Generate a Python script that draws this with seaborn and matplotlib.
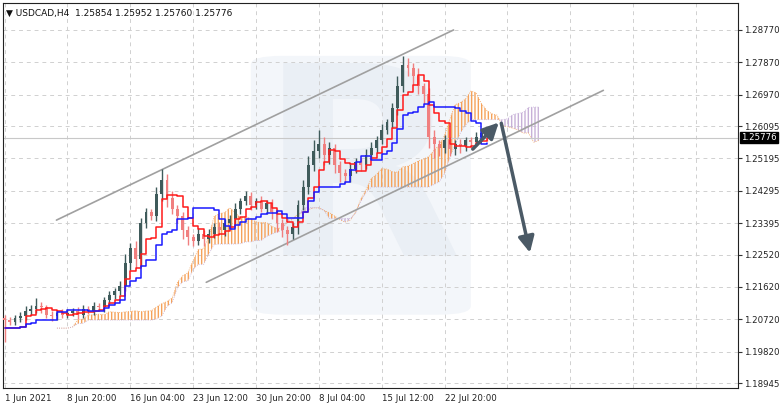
import numpy as np
import pandas as pd
import matplotlib
matplotlib.use("Agg")
import matplotlib.pyplot as plt
import seaborn as sns
from matplotlib.patches import FancyBboxPatch

sns.set_theme(style="white")
plt.rcParams['font.family'] = ['DejaVu Sans']

closes = [1.2070,
          1.2065,1.2075,1.2080,
          1.2095,1.2100,1.2110,1.2105,
          1.2085,1.2080,1.2090,1.2085,
          1.2090,1.2095,1.2085,1.2100,1.2095,1.2110,1.2105,
          1.2125,1.2140,1.2150,1.2165,
          1.2230,1.2270,1.2240,
          1.2340,1.2370,1.2360,
          1.2420,1.2460,1.2410,
          1.2380,1.2360,1.2320,
          1.2300,1.2290,1.2310,1.2295,
          1.2310,1.2330,1.2320,1.2340,1.2350,
          1.2380,1.2400,1.2415,
          1.2390,1.2400,1.2380,1.2395,1.2370,
          1.2340,1.2320,1.2310,1.2330,
          1.2390,1.2440,1.2500,
          1.2540,1.2560,1.2530,1.2550,
          1.2500,1.2480,1.2470,
          1.2490,1.2510,1.2500,1.2530,
          1.2550,1.2570,1.2600,1.2620,1.2660,
          1.2720,1.2780,1.2770,
          1.2750,1.2720,1.2700,
          1.2580,1.2560,1.2550,
          1.2570,1.2545,1.2560,1.2555,1.2570,
          1.2565,1.2580,1.2590,1.2578]
first_open = 1.2075
wick_up_pips = [10,8,10,12, 15,12,20,10, 8,10,8,10, 10,8,10,12,8,10,8, 10,12,10,15,
                25,15,20, 15,12,10, 20,30,15, 20,10,10, 12,10,15,10, 12,10,12,10,12,
                15,10,15, 12,10,15,10,12, 10,10,12,10, 15,20,25, 30,40,20,15, 10,12,10,
                15,12,10,15, 15,12,15,10,15, 30,25,20, 15,20,10, 15,20,12, 15,10,12,15,10,
                10,12,8,12]
wick_dn_pips = [60,10,8,10, 10,12,10,15, 10,12,10,8, 8,10,12,10,8,10,10, 12,10,12,10,
                15,20,25, 20,15,12, 15,20,25, 15,20,25, 20,15,12,20, 10,12,10,15,10,
                12,15,10, 15,12,10,15,20, 25,20,30,15, 20,15,20, 15,20,30,25, 20,25,20,
                15,12,15,10, 12,15,10,12,15, 20,15,20, 25,20,30, 30,40,25, 15,20,15,20,15,
                15,10,12,10]

xtick_labels = ["1 Jun 2021", "8 Jun 20:00", "16 Jun 04:00", "23 Jun 12:00",
                "30 Jun 20:00", "8 Jul 04:00", "15 Jul 12:00", "22 Jul 20:00"]
ytick_values = [1.28770, 1.27870, 1.26970, 1.26095, 1.25195, 1.24295,
                1.23395, 1.22520, 1.21620, 1.20720, 1.19820, 1.18945]
title = "USDCAD,H4  1.25854 1.25952 1.25760 1.25776"
last_price = 1.25776
channel_upper = [(9.9, 1.2348), (85.7, 1.2877)]
channel_lower = [(38.5, 1.2175), (114.3, 1.2709)]
arrow_up = [(89.0, 1.2540), (94.7, 1.2625)]
arrow_down = [(94.7, 1.2625), (100.4, 1.2250)]

n = len(closes)
idx = np.arange(n)
c = np.array(closes)
o = np.concatenate([[first_open], c[:-1]])
h = np.maximum(o, c) + np.array(wick_up_pips) * 1e-4
l = np.minimum(o, c) - np.array(wick_dn_pips) * 1e-4
df = pd.DataFrame({"i": idx, "open": o, "high": h, "low": l, "close": c})

tk, kj, sb, sh = 4, 10, 21, 10
df["tenkan"] = (df.high.rolling(tk, 1).max() + df.low.rolling(tk, 1).min()) / 2
df["kijun"] = (df.high.rolling(kj, 1).max() + df.low.rolling(kj, 1).min()) / 2
spanA = ((df.tenkan + df.kijun) / 2).values
spanB = ((df.high.rolling(sb, 1).max() + df.low.rolling(sb, 1).min()) / 2).values
cx = idx + sh

fig = plt.figure(figsize=(7.82, 4.08), dpi=100)
ax = fig.add_axes([3/782, 20/408, 735/782, 385/408])
ax.set_xlim(-0.3, 140)
ax.set_ylim(1.1881, 1.2952)

ax.add_patch(FancyBboxPatch((47, 1.2085), 42, 0.072, boxstyle="round,pad=0,rounding_size=6",
                            facecolor="#f3f6fa", edgecolor="none", zorder=0,
                            mutation_aspect=0.0004))
ax.text(68, 1.245, "R", fontsize=190, fontweight="bold", color="#eaeff5",
        ha="center", va="center", zorder=0)

ax.set_xticks(np.arange(0, 140, 12))
ax.set_yticks(ytick_values)
ax.grid(True, color="#d0d0d0", linestyle=(0, (4, 4)), linewidth=0.7)
ax.set_axisbelow(True)

bull = spanA >= spanB
ax.fill_between(cx, spanA, spanB, where=bull, interpolate=True, facecolor="none",
                edgecolor="#f5a25a", hatch="|||||", linewidth=0, zorder=1)
ax.fill_between(cx, spanA, spanB, where=~bull, interpolate=True, facecolor="none",
                edgecolor="#c7b0d8", hatch="|||||", linewidth=0, zorder=1)
ax.plot(cx, spanA, color="#f5a25a", lw=0.6, ls=":", zorder=1)
ax.plot(cx, spanB, color="#c7b0d8", lw=0.6, ls=":", zorder=1)

for seg in (channel_upper, channel_lower):
    ax.plot([seg[0][0], seg[1][0]], [seg[0][1], seg[1][1]], color="#a0a0a0", lw=1.2, zorder=2)

ax.axhline(last_price, color="#c8c8c8", lw=0.8, zorder=1)

up = df.close >= df.open
cols = np.where(up, "#3f5b5b", "#f07f7f")
ax.vlines(df.i, df.low, df.high, colors=cols, lw=1.0, zorder=3)
ax.bar(df.i, (df.close - df.open).abs().clip(lower=2e-5), bottom=np.minimum(df.open, df.close),
       width=0.55, color=cols, zorder=3, linewidth=0)

sns.lineplot(data=df, x="i", y="tenkan", color="#ff1a1a", lw=1.1, ax=ax, drawstyle="steps-post", zorder=4)
sns.lineplot(data=df, x="i", y="kijun", color="#1a1aff", lw=1.1, ax=ax, drawstyle="steps-post", zorder=4)

for a in (arrow_up, arrow_down):
    ax.annotate("", xy=a[1], xytext=a[0],
                arrowprops=dict(arrowstyle="-|>,head_length=0.8,head_width=0.4",
                                color="#4b5a66", lw=2.5), zorder=5)

ax.set_xlabel("")
ax.set_ylabel("")
ax.yaxis.tick_right()
ax.set_yticklabels([f"{v:.5f}" for v in ytick_values], fontsize=6.2, color="#222")
ax.set_xticklabels([xtick_labels[k] if k < len(xtick_labels) else "" for k in range(len(ax.get_xticks()))],
                   fontsize=6.2, color="#222", ha="left")
ax.tick_params(axis="both", length=3, width=0.8, color="#333", pad=1.5)
for s in ax.spines.values():
    s.set_color("#222")
    s.set_linewidth(0.8)

ax.text(0.004, 0.985, "▼ " + title, transform=ax.transAxes, fontsize=6.5, va="top", ha="left", color="#111")
ax.text(1.004, last_price, f"{last_price:.5f}", transform=ax.get_yaxis_transform(), fontsize=6.2,
        color="white", va="center", ha="left",
        bbox=dict(boxstyle="square,pad=0.15", facecolor="black", edgecolor="black"))

fig.savefig("out.png", dpi=100, facecolor="white")
